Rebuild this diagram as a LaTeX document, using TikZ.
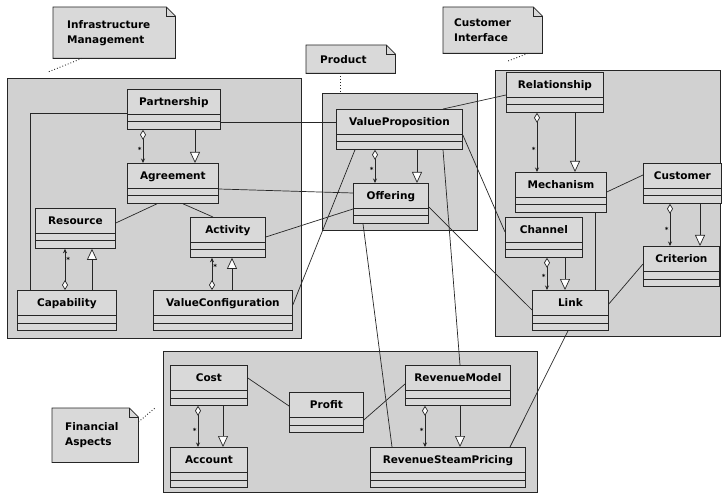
\documentclass[tikz,border=0pt]{standalone}
\usepackage{fontspec}
\setmainfont{DejaVu Sans}
\usetikzlibrary{arrows.meta,backgrounds,calc}
\definecolor{pkggray}{gray}{0.82}
\definecolor{boxgray}{gray}{0.85}
\definecolor{umlline}{gray}{0.15}

\tikzset{
    umlclass/.style={draw=umlline, line width=0.8pt, fill=boxgray, anchor=north west,
        inner xsep=3pt, inner ysep=0pt, text height=16pt, text depth=24pt,
        font=\fontsize{10.5}{12}\selectfont\bfseries,
        path picture={
            \draw[umlline, line width=0.8pt] ([yshift=-25pt]path picture bounding box.north west) -- ([yshift=-25pt]path picture bounding box.north east);
            \draw[umlline, line width=0.8pt] ([yshift=-32.5pt]path picture bounding box.north west) -- ([yshift=-32.5pt]path picture bounding box.north east);
        }},
    pkg/.style={draw=umlline, line width=0.8pt, fill=pkggray},
    notetext/.style={anchor=north west, align=left, inner ysep=0pt,
        font=\fontsize{10.5}{15}\selectfont\bfseries},
    notebody/.style={draw=umlline, line width=0.8pt, fill=boxgray},
    notelink/.style={draw=umlline, line width=0.9pt, dotted},
    assoc/.style={draw=umlline, line width=0.7pt},
    aggr/.style={assoc, arrows={Diamond[length=10pt,width=6pt,fill=white]-Stealth[length=4.5pt,width=4pt]}},
    gener/.style={assoc, arrows={-Triangle[length=11pt,width=10pt,fill=white]}},
    mult/.style={font=\fontsize{7}{8}\selectfont\bfseries, inner sep=1pt}
}

\begin{document}
\begin{tikzpicture}[x=1pt, y=-1pt]
    \useasboundingbox (0,0) rectangle (725,494);
    % packages
    \draw[pkg] (7,78) rectangle (301,338);
    \draw[pkg] (322,93) rectangle (477,230);
    \draw[pkg] (495,70) rectangle (720,336);
    \draw[pkg] (163,351) rectangle (537,492);

    % notes
    \node[notetext, inner xsep=14pt, text width=94pt, minimum height=51pt] (infranote) at (53,7) {Infrastructure\\Management};
    \node[notetext, inner xsep=14pt, text width=61pt, minimum height=28pt] (prodnote) at (306,45) {Product};
    \node[notetext, inner xsep=11pt, text width=77pt, minimum height=46pt] (custnote) at (443,7) {Customer\\Interface};
    \node[notetext, inner xsep=13pt, text width=60pt, minimum height=54pt] (finnote) at (52,408) {Financial\\Aspects};
    \begin{scope}[on background layer]
        \foreach \n in {infranote,prodnote,custnote,finnote}{
            \draw[notebody] (\n.north west) -- ([xshift=-9pt]\n.north east) -- ([yshift=-9pt]\n.north east) -- (\n.south east) -- (\n.south west) -- cycle;
            \draw[notebody, fill=none] ([xshift=-9pt]\n.north east) |- ([yshift=-9pt]\n.north east);
        }
    \end{scope}
    \coordinate (infrapin) at (48,72);
    \coordinate (prodpin) at (340,91);
    \coordinate (custpin) at (508,61);
    \coordinate (finpin) at (155,408);
    \draw[notelink] ([xshift=29pt]infranote.south west) -- (infrapin);
    \draw[notelink] ([xshift=34pt]prodnote.south west) -- (prodpin);
    \draw[notelink] ([xshift=85pt]custnote.south west) -- (custpin);
    \draw[notelink] ([yshift=-14pt]finnote.north east) -- (finpin);

    % infrastructure management
    \node[umlclass, minimum width=93pt] (part) at (127,89) {Partnership};
    \node[umlclass, minimum width=91pt] (agree) at (127,163) {Agreement};
    \node[umlclass, minimum width=80pt] (res) at (35,208) {Resource};
    \node[umlclass, minimum width=75pt] (act) at (190,217) {Activity};
    \node[umlclass, minimum width=99pt] (capab) at (17,290) {Capability};
    \node[umlclass, minimum width=139pt] (vconf) at (153,290) {ValueConfiguration};
    % product
    \node[umlclass, minimum width=126pt] (vprop) at (336,109) {ValueProposition};
    \node[umlclass, minimum width=75pt] (offer) at (353,183) {Offering};
    % customer interface
    \node[umlclass, minimum width=97pt] (relat) at (506,72) {Relationship};
    \node[umlclass, minimum width=91pt] (mech) at (515,172) {Mechanism};
    \node[umlclass, minimum width=78pt] (cust) at (643,163) {Customer};
    \node[umlclass, minimum width=76pt] (crit) at (643,246) {Criterion};
    \node[umlclass, minimum width=77pt] (chan) at (505,217) {Channel};
    \node[umlclass, minimum width=76pt] (link) at (532,290) {Link};
    % financial aspects
    \node[umlclass, minimum width=77pt] (cost) at (170,365) {Cost};
    \node[umlclass, minimum width=77pt] (account) at (170,447) {Account};
    \node[umlclass, minimum width=74pt] (profit) at (289,392) {Profit};
    \node[umlclass, minimum width=105pt] (revmod) at (405,365) {RevenueModel};
    \node[umlclass, minimum width=155pt] (rsp) at (370,447) {RevenueSteamPricing};

    % aggregations and generalizations
    \draw[aggr] ([xshift=16pt]part.south west) -- ([xshift=16pt]agree.north west) node[mult, pos=0.6, left] (m1) {*};
    \draw[gener] ([xshift=68pt]part.south west) -- ([xshift=68pt]agree.north west);
    \draw[aggr] ([xshift=39pt]vprop.south west) -- ([xshift=22pt]offer.north west) node[mult, pos=0.6, left] (m2) {*};
    \draw[gener] ([xshift=81pt]vprop.south west) -- ([xshift=64pt]offer.north west);
    \draw[aggr] ([xshift=31pt]relat.south west) -- ([xshift=22pt]mech.north west) node[mult, pos=0.63, left] (m3) {*};
    \draw[gener] ([xshift=69pt]relat.south west) -- ([xshift=60pt]mech.north west);
    \draw[aggr] ([xshift=27pt]cust.south west) -- ([xshift=27pt]crit.north west) node[mult, pos=0.63, left] (m4) {*};
    \draw[gener] ([xshift=57pt]cust.south west) -- ([xshift=57pt]crit.north west);
    \draw[aggr] ([xshift=42pt]chan.south west) -- ([xshift=15pt]link.north west) node[mult, pos=0.6, left] (m5) {*};
    \draw[gener] ([xshift=60pt]chan.south west) -- ([xshift=33pt]link.north west);
    \draw[aggr] ([xshift=28pt]cost.south west) -- ([xshift=28pt]account.north west) node[mult, pos=0.6, left] (m6) {*};
    \draw[gener] ([xshift=53pt]cost.south west) -- ([xshift=53pt]account.north west);
    \draw[aggr] ([xshift=20pt]revmod.south west) -- ([xshift=55pt]rsp.north west) node[mult, pos=0.6, left] (m7) {*};
    \draw[gener] ([xshift=55pt]revmod.south west) -- ([xshift=90pt]rsp.north west);
    \draw[aggr] ([xshift=48pt]capab.north west) -- ([xshift=30pt]res.south west) node[mult, pos=0.74, right] (m8) {*};
    \draw[gener] ([xshift=75pt]capab.north west) -- ([xshift=57pt]res.south west);
    \draw[aggr] ([xshift=59pt]vconf.north west) -- ([xshift=22pt]act.south west) node[mult, pos=0.72, right] (m9) {*};
    \draw[gener] ([xshift=79pt]vconf.north west) -- ([xshift=42pt]act.south west);

    % associations
    \draw[assoc] ([yshift=-33pt]part.north east) -- ([yshift=-13pt]vprop.north west);
    \draw[assoc] ([yshift=-24pt]part.north west) -| ([xshift=13pt]capab.north west);
    \draw[assoc] ([yshift=-26pt]agree.north east) -- ([yshift=-10pt]offer.north west);
    \draw[assoc] ([xshift=30pt]agree.south west) -- ([yshift=-15pt]res.north east);
    \draw[assoc] ([xshift=56pt]agree.south west) -- ([xshift=23pt]act.north west);
    \draw[assoc] ([yshift=-20pt]act.north east) -- ([yshift=-26pt]offer.north west);
    \draw[assoc] ([yshift=-15pt]vconf.north east) -- ([xshift=19pt]vprop.south west);
    \draw[assoc] ([xshift=10pt]offer.south west) -- ([xshift=22pt]rsp.north west);
    \draw[assoc] ([xshift=107pt]vprop.south west) -- ([xshift=55pt]revmod.north west);
    \draw[assoc] ([xshift=107pt]vprop.north west) -- ([yshift=-23pt]relat.north west);
    \draw[assoc] ([yshift=-26pt]vprop.north east) -- ([yshift=-15pt]chan.north west);
    \draw[assoc] ([yshift=-24pt]offer.north east) -- ([yshift=-20pt]link.north west);
    \draw[assoc] ([xshift=80pt]mech.south west) -- ([xshift=63pt]link.north west);
    \draw[assoc] ([yshift=-20pt]mech.north east) -- ([yshift=-12pt]cust.north west);
    \draw[assoc] ([yshift=-18pt]crit.north west) -- ([yshift=-14pt]link.north east);
    \draw[assoc] ([xshift=36pt]link.south west) -- ([xshift=140pt]rsp.north west);
    \draw[assoc] ([yshift=-13pt]cost.north east) -- ([yshift=-14pt]profit.north west);
    \draw[assoc] ([yshift=-28pt]profit.north east) -- ([yshift=-19pt]revmod.north west);
\end{tikzpicture}
\end{document}
